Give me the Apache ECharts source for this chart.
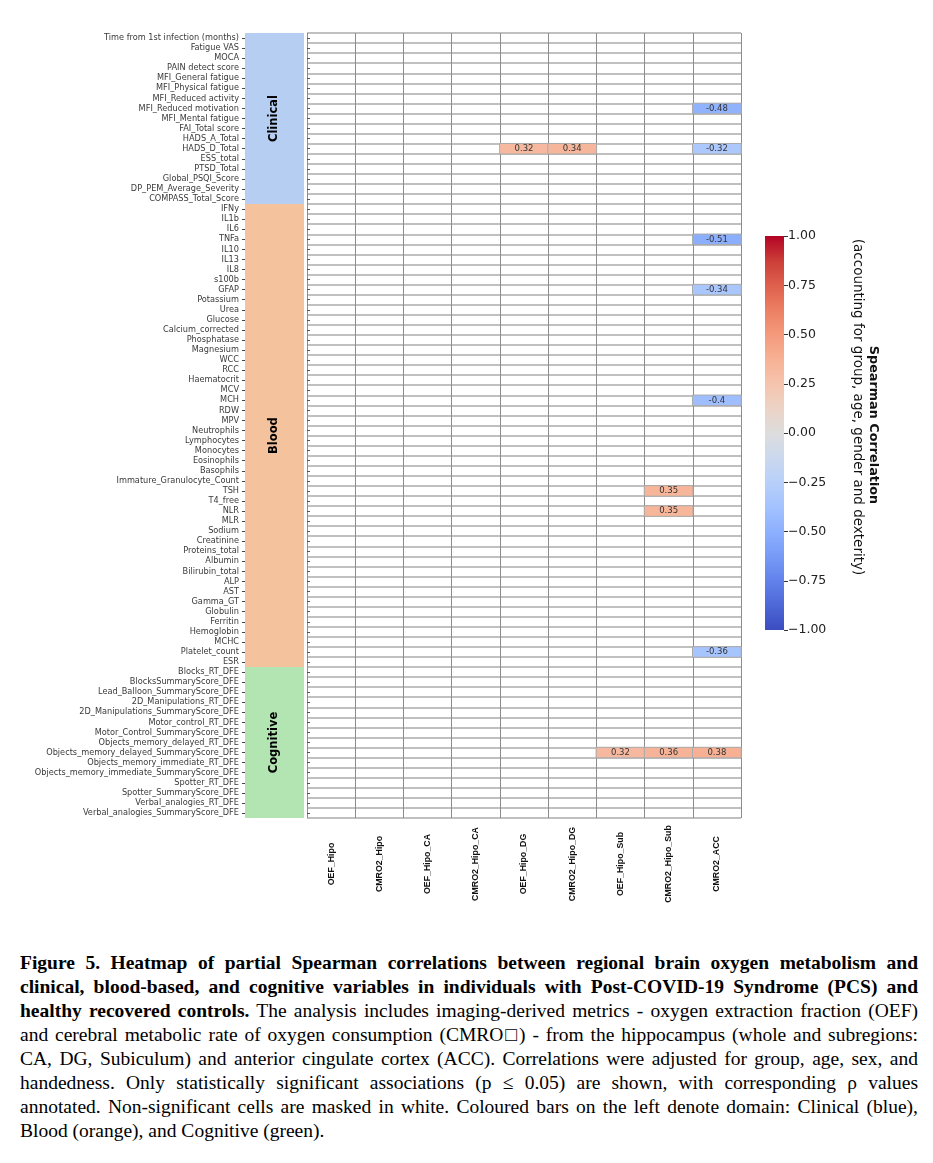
<!DOCTYPE html>
<html>
<head>
<meta charset="utf-8">
<script src="https://cdn.jsdelivr.net/npm/echarts@6/dist/echarts.min.js"></script>
<style>
  html, body { margin: 0; padding: 0; background: #fff; }
  #chart { position: absolute; left: 0; top: 0; width: 933px; height: 930px; }
  #caption { position: absolute; left: 20px; top: 951px; width: 898px;
             font-family: "Liberation Serif", "Times New Roman", serif; font-size: 19.5px;
             line-height: 24px; color: #000; }
  #caption .ln { white-space: nowrap; text-align: justify; text-align-last: justify; transform-origin: 0 50%; }
  #caption .ln.last { text-align-last: left; }
</style>
</head>
<body>
<div id="chart"></div>
<div id="caption">
  <div class="ln"><b>Figure 5. Heatmap of partial Spearman correlations between regional brain oxygen metabolism and</b></div>
  <div class="ln"><b>clinical, blood-based, and cognitive variables in individuals with Post-COVID-19 Syndrome (PCS) and</b></div>
  <div class="ln"><b>healthy recovered controls.</b> The analysis includes imaging-derived metrics - oxygen extraction fraction (OEF)</div>
  <div class="ln">and cerebral metabolic rate of oxygen consumption (CMRO□) - from the hippocampus (whole and subregions:</div>
  <div class="ln">CA, DG, Subiculum) and anterior cingulate cortex (ACC). Correlations were adjusted for group, age, sex, and</div>
  <div class="ln">handedness. Only statistically significant associations (p ≤ 0.05) are shown, with corresponding ρ values</div>
  <div class="ln">annotated. Non-significant cells are masked in white. Coloured bars on the left denote domain: Clinical (blue),</div>
  <div class="ln last">Blood (orange), and Cognitive (green).</div>
</div>
<script>
// ---------------- DATA ----------------
const columns = ['OEF_Hipo', 'CMRO2_Hipo', 'OEF_Hipo_CA', 'CMRO2_Hipo_CA', 'OEF_Hipo_DG',
                 'CMRO2_Hipo_DG', 'OEF_Hipo_Sub', 'CMRO2_Hipo_Sub', 'CMRO2_ACC'];

const clinicalVars = ['Time from 1st infection (months)', 'Fatigue VAS', 'MOCA', 'PAIN detect score',
  'MFI_General fatigue', 'MFI_Physical fatigue', 'MFI_Reduced activity', 'MFI_Reduced motivation',
  'MFI_Mental fatigue', 'FAI_Total score', 'HADS_A_Total', 'HADS_D_Total', 'ESS_total', 'PTSD_Total',
  'Global_PSQI_Score', 'DP_PEM_Average_Severity', 'COMPASS_Total_Score'];

const bloodVars = ['IFNy', 'IL1b', 'IL6', 'TNFa', 'IL10', 'IL13', 'IL8', 's100b', 'GFAP', 'Potassium',
  'Urea', 'Glucose', 'Calcium_corrected', 'Phosphatase', 'Magnesium', 'WCC', 'RCC', 'Haematocrit',
  'MCV', 'MCH', 'RDW', 'MPV', 'Neutrophils', 'Lymphocytes', 'Monocytes', 'Eosinophils', 'Basophils',
  'Immature_Granulocyte_Count', 'TSH', 'T4_free', 'NLR', 'MLR', 'Sodium', 'Creatinine',
  'Proteins_total', 'Albumin', 'Bilirubin_total', 'ALP', 'AST', 'Gamma_GT', 'Globulin', 'Ferritin',
  'Hemoglobin', 'MCHC', 'Platelet_count', 'ESR'];

const cognitiveVars = ['Blocks_RT_DFE', 'BlocksSummaryScore_DFE', 'Lead_Balloon_SummaryScore_DFE',
  '2D_Manipulations_RT_DFE', '2D_Manipulations_SummaryScore_DFE', 'Motor_control_RT_DFE',
  'Motor_Control_SummaryScore_DFE', 'Objects_memory_delayed_RT_DFE',
  'Objects_memory_delayed_SummaryScore_DFE', 'Objects_memory_immediate_RT_DFE',
  'Objects_memory_immediate_SummaryScore_DFE', 'Spotter_RT_DFE', 'Spotter_SummaryScore_DFE',
  'Verbal_analogies_RT_DFE', 'Verbal_analogies_SummaryScore_DFE'];

const domainNames = ['Clinical', 'Blood', 'Cognitive'];

// significant correlations (row variable, column, rho)
const sigRows = ['MFI_Reduced motivation', 'HADS_D_Total', 'HADS_D_Total', 'HADS_D_Total', 'TNFa',
  'GFAP', 'MCH', 'TSH', 'NLR', 'Platelet_count', 'Objects_memory_delayed_SummaryScore_DFE',
  'Objects_memory_delayed_SummaryScore_DFE', 'Objects_memory_delayed_SummaryScore_DFE'];
const sigCols = ['CMRO2_ACC', 'OEF_Hipo_DG', 'CMRO2_Hipo_DG', 'CMRO2_ACC', 'CMRO2_ACC',
  'CMRO2_ACC', 'CMRO2_ACC', 'CMRO2_Hipo_Sub', 'CMRO2_Hipo_Sub', 'CMRO2_ACC',
  'OEF_Hipo_Sub', 'CMRO2_Hipo_Sub', 'CMRO2_ACC'];
const sigValues = [-0.48, 0.32, 0.34, -0.32, -0.51, -0.34, -0.4, 0.35, 0.35, -0.36, 0.32, 0.36, 0.38];

// ---------------- STYLE ----------------
const coolwarm = ['#3b4cc0', '#4d68d7', '#6282ea', '#779af7', '#8db0fe', '#a3c2ff', '#b8d0f9',
  '#cbd8ee', '#dddddd', '#ecd3c5', '#f5c4ad', '#f7b194', '#f49a7b', '#ec7f63', '#de604d',
  '#cb3e38', '#b40426'];
const domainColors = ['#b5cef2', '#f4c29d', '#b3e5b3'];

// ---------------- BUILD ----------------
const rows = clinicalVars.concat(bloodVars, cognitiveVars);
const domainRanges = [];
(function () {
  let s = 0;
  [clinicalVars, bloodVars, cognitiveVars].forEach((arr, i) => {
    domainRanges.push([0, s, s + arr.length - 1, i]);
    s += arr.length;
  });
})();
const heatData = sigValues.map((v, i) => [columns.indexOf(sigCols[i]), rows.indexOf(sigRows[i]), v]);

const GT = 33, GH = 785;
const chart = echarts.init(document.getElementById('chart'), null, { renderer: 'canvas' });
const minus = s => s.replace('-', '\u2212');

const option = {
  animation: false,
  backgroundColor: '#fff',
  textStyle: { fontFamily: 'DejaVu Sans' },
  grid: [
    { left: 245, top: GT, width: 59, height: GH },
    { left: 307, top: GT, width: 434, height: GH },
    { left: 765, top: 236, width: 19, height: 394 }
  ],
  xAxis: [
    { gridIndex: 0, type: 'category', data: ['domain'], show: false },
    { gridIndex: 1, type: 'category', data: columns, position: 'bottom',
      axisLine: { show: false }, axisTick: { show: false },
      axisLabel: { rotate: 90, align: 'center', verticalAlign: 'middle', margin: 46,
                   fontFamily: 'Liberation Sans', fontWeight: 'bold', fontSize: 8.8, color: '#111', interval: 0 },
      splitLine: { show: true, lineStyle: { color: '#8c8c8c', width: 1 } } },
    { gridIndex: 2, type: 'category', data: ['cb'], show: false }
  ],
  yAxis: [
    { gridIndex: 0, type: 'category', data: rows, inverse: true,
      axisLine: { show: false },
      axisTick: { show: true, length: 3, alignWithLabel: true, interval: 0, lineStyle: { color: '#444' } },
      axisLabel: { interval: 0, fontSize: 8.2, color: '#3a3a3a', margin: 6, fontFamily: 'DejaVu Sans' },
      splitLine: { show: false } },
    { gridIndex: 1, type: 'category', data: rows, inverse: true,
      axisLine: { show: false },
      axisTick: { show: true, inside: true, length: 3, alignWithLabel: true, interval: 0, lineStyle: { color: '#555' } },
      axisLabel: { show: false },
      splitLine: { show: true, interval: 0, lineStyle: { color: '#ababab', width: 1.5 } } },
    { gridIndex: 2, type: 'value', min: -1, max: 1, interval: 0.25, position: 'right',
      axisLine: { show: false },
      axisTick: { show: true, length: 4, lineStyle: { color: '#333' } },
      axisLabel: { fontSize: 12.5, color: '#222', margin: 4, fontFamily: 'DejaVu Sans',
                   formatter: v => minus(v.toFixed(2)) },
      splitLine: { show: false } }
  ],
  visualMap: {
    show: false, type: 'continuous', min: -1, max: 1, dimension: 2, seriesIndex: 1,
    inRange: { color: coolwarm }
  },
  series: [
    {
      type: 'custom', xAxisIndex: 0, yAxisIndex: 0, data: domainRanges, silent: true,
      renderItem: function (params, api) {
        const s = api.value(1), e = api.value(2), d = api.value(3);
        const p1 = api.coord([0, s]), p2 = api.coord([0, e]);
        const w = api.size([1, 0])[0], h = api.size([0, 1])[1];
        const y0 = p1[1] - h / 2, y1 = p2[1] + h / 2;
        return {
          type: 'group',
          children: [
            { type: 'rect', shape: { x: p1[0] - w / 2, y: y0, width: w, height: y1 - y0 },
              style: { fill: domainColors[d] } },
            { type: 'text', x: p1[0], y: (y0 + y1) / 2, rotation: Math.PI / 2,
              style: { text: domainNames[d], fill: '#000', font: 'bold 11.5px "DejaVu Sans"',
                       align: 'center', verticalAlign: 'middle' } }
          ]
        };
      }
    },
    {
      type: 'heatmap', xAxisIndex: 1, yAxisIndex: 1, data: heatData,
      itemStyle: { borderColor: '#ababab', borderWidth: 1 },
      label: { show: true, fontSize: 8.5, color: '#333', fontFamily: 'DejaVu Sans',
               formatter: p => String(p.value[2]) }
    },
    {
      type: 'custom', xAxisIndex: 2, yAxisIndex: 2, data: [[0, -1, 1]], silent: true,
      renderItem: function (params, api) {
        const top = api.coord([0, api.value(2)]), bot = api.coord([0, api.value(1)]);
        const w = api.size([1, 0])[0];
        const stops = coolwarm.slice().reverse().map((c, i) => ({ offset: i / (coolwarm.length - 1), color: c }));
        return { type: 'rect', shape: { x: top[0] - w / 2, y: top[1], width: w, height: bot[1] - top[1] },
                 style: { fill: new echarts.graphic.LinearGradient(0, 0, 0, 1, stops) } };
      }
    }
  ],
  graphic: [
    { type: 'text', x: 873, y: 425, rotation: -Math.PI / 2,
      style: { text: 'Spearman Correlation', font: 'bold 12.8px "DejaVu Sans"', fill: '#111',
               align: 'center', verticalAlign: 'middle' } },
    { type: 'text', x: 857, y: 407, rotation: -Math.PI / 2,
      style: { text: '(accounting for group, age, gender and dexterity)', font: '13.5px "DejaVu Sans"', fill: '#111',
               align: 'center', verticalAlign: 'middle' } }
  ]
};
chart.setOption(option);

// fit caption lines to width if needed
document.querySelectorAll('#caption .ln').forEach(el => {
  if (el.scrollWidth > el.clientWidth + 1) {
    el.style.textAlignLast = 'left';
    el.style.transform = 'scaleX(' + (el.clientWidth / el.scrollWidth) + ')';
  }
});
</script>
</body>
</html>
